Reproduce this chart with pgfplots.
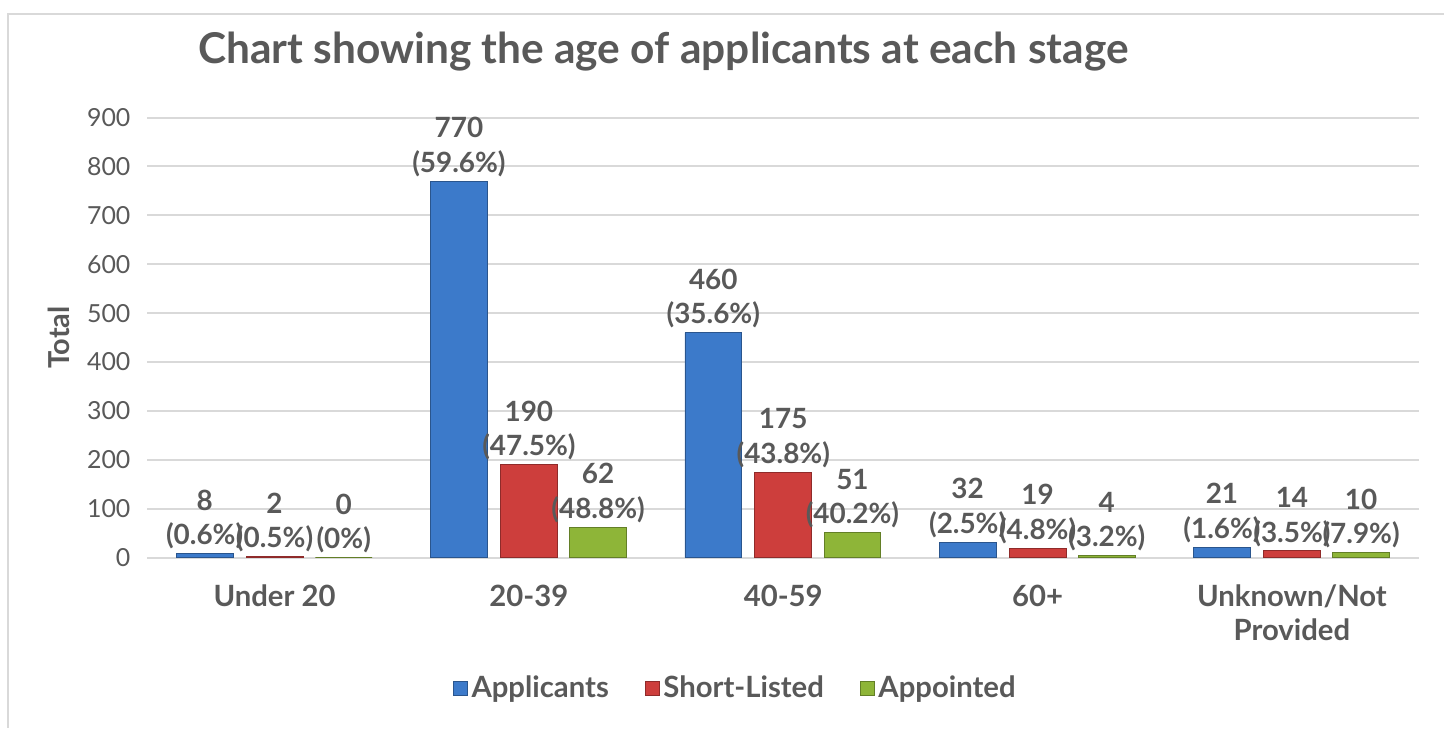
\documentclass[border=0pt]{standalone}
\usepackage{fontspec}
\setmainfont{Lato}
\usepackage{pgfplots}
\pgfplotsset{compat=1.18}

\definecolor{txt}{HTML}{595959}
\definecolor{gridc}{HTML}{D9D9D9}
\definecolor{cblue}{RGB}{60,122,202}
\definecolor{cred}{RGB}{205,62,60}
\definecolor{cgreen}{RGB}{142,181,56}

\pgfplotsset{
  barstyle/.style={ybar, bar width=0.223, bar shift=0,
    nodes near coords, point meta=explicit symbolic,
    nodes near coords style={font=\fontsize{14}{17.5}\selectfont\bfseries,
      align=center, text=txt, anchor=south, inner sep=2pt}},
  sqlegend/.style={legend image code/.code={
    \fill[##1] (0pt,-3.5pt) rectangle (7pt,3.5pt);}},
}

\begin{document}
\begin{tikzpicture}[x=1pt,y=1pt]
\path (0,0) rectangle (722.5,363.5);
\draw[gridc, line width=1pt] (4,-2) -- (4,356.5) -- (725,356.5);
\node[font=\fontsize{21.3}{25}\selectfont\bfseries, text=txt] at (333,337.5)
  {Chart showing the age of applicants at each stage};

\begin{axis}[
  at={(74pt,83.5pt)}, anchor=south west,
  width=638.5pt, height=221pt, scale only axis,
  xmin=-0.5, xmax=4.5, ymin=0, ymax=900,
  ytick={0,100,...,900},
  xtick={0,...,4},
  xticklabels={Under 20,20-39,40-59,60+,{Unknown/Not\\Provided}},
  axis line style={draw=none},
  major tick length=0pt,
  ymajorgrids, grid style={gridc, line width=1pt},
  /pgf/number format/assume math mode=true,
  yticklabel style={font=\fontsize{12.5}{15}\selectfont, text=txt, xshift=-5pt},
  xticklabel style={font=\fontsize{14.7}{17}\selectfont\bfseries, text=txt,
    align=center, yshift=-10pt},
  ylabel={Total},
  ylabel style={font=\fontsize{14.5}{17}\selectfont\bfseries, text=txt, yshift=2pt},
  legend style={at={(0.463,-0.296)}, anchor=center, draw=none,
    font=\fontsize{14.7}{17}\selectfont\bfseries, text=txt, legend columns=-1,
    /tikz/every even column/.append style={column sep=16pt}},
  clip=false,
]
\addplot[barstyle, fill=cblue, draw=cblue!70!black, sqlegend] coordinates {
  (-0.275,8) [8\\(0.6\%)]
  (0.725,770) [770\\(59.6\%)]
  (1.725,460) [460\\(35.6\%)]
  (2.725,32) [32\\(2.5\%)]
  (3.725,21) [21\\(1.6\%)]
};
\addlegendentry{Applicants}
\addplot[barstyle, fill=cred, draw=cred!70!black, sqlegend] coordinates {
  (0,2) [2\\(0.5\%)]
  (1,190) [190\\(47.5\%)]
  (2,175) [175\\(43.8\%)]
  (3,19) [19\\(4.8\%)]
  (4,14) [14\\(3.5\%)]
};
\addlegendentry{Short-Listed}
\addplot[barstyle, fill=cgreen, draw=cgreen!70!black, sqlegend] coordinates {
  (0.272,0) [0\\(0\%)]
  (1.272,62) [62\\(48.8\%)]
  (2.272,51) [51\\(40.2\%)]
  (3.272,4) [4\\(3.2\%)]
  (4.272,10) [10\\(7.9\%)]
};
\addlegendentry{Appointed}
\end{axis}
\end{tikzpicture}
\end{document}
